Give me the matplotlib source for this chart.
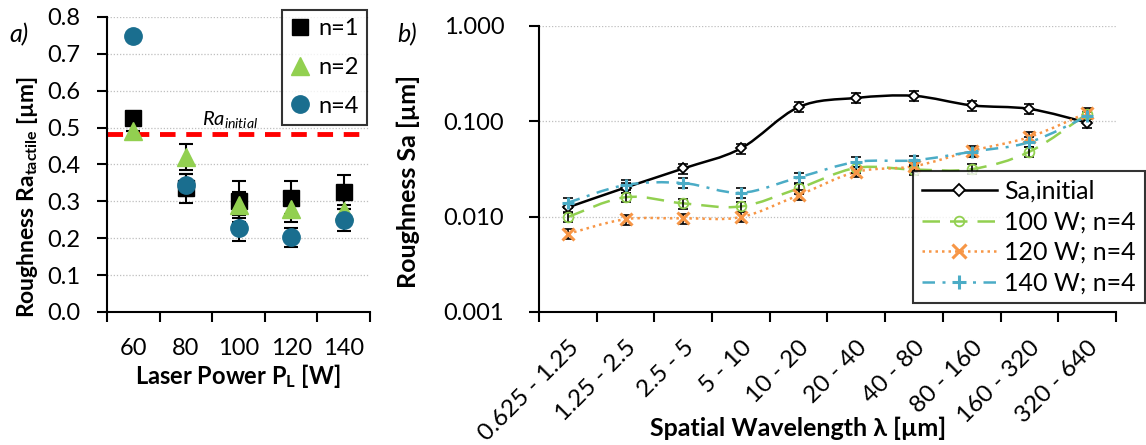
import numpy as np
import matplotlib
matplotlib.use("Agg")
import matplotlib.pyplot as plt
from matplotlib.path import Path
from matplotlib.patches import PathPatch
from matplotlib.lines import Line2D

plt.rcParams["font.family"] = ["Lato", "DejaVu Sans"]
plt.rcParams["mathtext.fontset"] = "custom"
plt.rcParams["mathtext.rm"] = "Lato"
plt.rcParams["mathtext.it"] = "Lato:italic"
plt.rcParams["mathtext.bf"] = "Lato:bold"

# ---- panel a data ----
POWERS = ["60", "80", "100", "120", "140"]
RA_N1 = [0.525, 0.335, 0.300, 0.310, 0.325]
RA_N1_ERR = [0.0, 0.040, 0.055, 0.045, 0.047]
RA_N2 = [0.490, 0.420, 0.290, 0.280, 0.275]
RA_N2_ERR = [0.0, 0.035, 0.035, 0.035, 0.015]
RA_N4 = [0.748, 0.345, 0.228, 0.202, 0.250]
RA_N4_ERR = [0.0, 0.030, 0.035, 0.025, 0.030]
RA_INITIAL = 0.482

# ---- panel b data ----
WAVELENGTHS = ["0.625 - 1.25", "1.25 - 2.5", "2.5 - 5", "5 - 10", "10 - 20",
               "20 - 40", "40 - 80", "80 - 160", "160 - 320", "320 - 640"]
SA_INITIAL = [0.0125, 0.0202, 0.032, 0.052, 0.141, 0.176, 0.185, 0.147, 0.135, 0.097]
SA_100W = [0.0099, 0.0160, 0.0138, 0.0128, 0.0198, 0.0325, 0.0312, 0.0315, 0.048, 0.120]
SA_120W = [0.0066, 0.0094, 0.0096, 0.0099, 0.0168, 0.0295, 0.0338, 0.0490, 0.0685, 0.123]
SA_140W = [0.0140, 0.0215, 0.0225, 0.0178, 0.0258, 0.0375, 0.0390, 0.0480, 0.0605, 0.113]

BLACK = "#000000"
GREEN = "#92D050"
TEAL = "#1A6E8F"
ORANGE = "#F79646"
LBLUE = "#4BACC6"
GRID = "#BFBFBF"


def smooth_path(x, y):
    # Excel-like smoothed line: cubic Bezier through points, built in log space
    px = np.asarray(x, float)
    py = np.log10(np.asarray(y, float))
    verts = [(px[0], 10 ** py[0])]
    codes = [Path.MOVETO]
    n = len(px)
    for i in range(n - 1):
        i0 = max(i - 1, 0)
        i3 = min(i + 2, n - 1)
        c1x = px[i] + (px[i + 1] - px[i0]) / 6
        c1y = py[i] + (py[i + 1] - py[i0]) / 6
        c2x = px[i + 1] - (px[i3] - px[i]) / 6
        c2y = py[i + 1] - (py[i3] - py[i]) / 6
        verts += [(c1x, 10 ** c1y), (c2x, 10 ** c2y), (px[i + 1], 10 ** py[i + 1])]
        codes += [Path.CURVE4] * 3
    return Path(verts, codes)


fig = plt.figure(figsize=(11.46, 4.45), dpi=100)

# ================= panel a =================
ax1 = fig.add_axes([0.0934, 0.2989, 0.2295, 0.663])
xa = np.arange(len(POWERS))
ax1.set_xlim(-0.5, len(POWERS) - 0.5)
ax1.set_ylim(0, 0.8)
ax1.set_yticks(np.arange(0, 0.81, 0.1))
ax1.set_yticklabels([f"{v:.1f}" for v in np.arange(0, 0.81, 0.1)])
for v in np.arange(0.1, 0.81, 0.1):
    ax1.axhline(v, color=GRID, lw=0.9, ls=(0, (1, 1.5)), zorder=0)

ax1.errorbar(xa, RA_N1, yerr=RA_N1_ERR, fmt="none", ecolor="black", elinewidth=1.5,
             capsize=5, capthick=1.5, zorder=2)
ax1.errorbar(xa, RA_N2, yerr=RA_N2_ERR, fmt="none", ecolor="black", elinewidth=1.5,
             capsize=5, capthick=1.5, zorder=2)
ax1.errorbar(xa, RA_N4, yerr=RA_N4_ERR, fmt="none", ecolor="black", elinewidth=1.5,
             capsize=5, capthick=1.5, zorder=2)
ax1.plot(xa, RA_N1, ls="none", marker="s", ms=11, color=BLACK, label="n=1", zorder=3)
ax1.plot(xa, RA_N2, ls="none", marker="^", ms=13, color=GREEN, label="n=2", zorder=4)
ax1.plot(xa, RA_N4, ls="none", marker="o", ms=12.5, color=TEAL, label="n=4", zorder=5)
ax1.axhline(RA_INITIAL, color="#FF0000", lw=3.5, ls=(0, (3.2, 2.2)), zorder=1)
ax1.text(1.85, RA_INITIAL + 0.012, r"$\mathit{Ra}_{\mathit{initial}}$", fontsize=14.5,
         ha="center", va="bottom")

ax1.set_xticks(xa)
ax1.set_xticklabels(POWERS)
ax1.set_xticks(np.arange(-0.5, len(POWERS)), minor=True)
ax1.tick_params(axis="x", which="major", length=0, labelsize=17, pad=19)
ax1.tick_params(axis="x", which="minor", length=7, width=1.5, direction="out")
ax1.tick_params(axis="y", length=7, width=1.5, labelsize=17, pad=12)
for s in ["top", "right"]:
    ax1.spines[s].set_visible(False)
for s in ["left", "bottom"]:
    ax1.spines[s].set_linewidth(1.5)
ax1.set_ylabel(r"Roughness Ra$_{\mathbf{tactile}}$ [µm]", fontsize=16.5, fontweight="bold",
               va="center")
ax1.yaxis.set_label_coords(-0.304, 0.39)
ax1.set_xlabel(r"Laser Power P$_{\mathbf{L}}$ [W]", fontsize=17, fontweight="bold", va="center")
ax1.xaxis.set_label_coords(0.496, -0.217)
leg1 = ax1.legend(loc="upper right", bbox_to_anchor=(0.99, 1.024), borderaxespad=0,
                  fontsize=17, frameon=True, fancybox=False, edgecolor="black",
                  handlelength=0.8, handletextpad=0.4, borderpad=0.35, labelspacing=0.75)
leg1.get_frame().set_linewidth(1.5)
fig.text(0.008, 0.905, "a)", fontsize=18, style="italic")

# ================= panel b =================
ax2 = fig.add_axes([0.4703, 0.2989, 0.5035, 0.6427])
xb = np.arange(len(WAVELENGTHS))
ax2.set_yscale("log")
ax2.set_ylim(0.001, 1.0)
ax2.set_xlim(-0.5, len(WAVELENGTHS) - 0.5)
ax2.set_yticks([0.001, 0.01, 0.1, 1.0])
ax2.set_yticklabels(["0.001", "0.010", "0.100", "1.000"])
ax2.minorticks_off()
for v in [0.01, 0.1, 1.0]:
    ax2.axhline(v, color=GRID, lw=0.9, ls=(0, (1, 1.5)), zorder=0)

series = [
    (SA_INITIAL, BLACK, "-", "D", "Sa,initial"),
    (SA_100W, GREEN, (0, (7, 4)), "o", "100 W; n=4"),
    (SA_120W, ORANGE, (0, (1, 1.6)), "x", "120 W; n=4"),
    (SA_140W, LBLUE, (0, (5, 3, 1.2, 3)), "+", "140 W; n=4"),
]
handles = []
for vals, col, ls, mk, lab in series:
    ax2.add_patch(PathPatch(smooth_path(xb, vals), fill=False, edgecolor=col, lw=1.8,
                            linestyle=ls, zorder=2))
    err = np.asarray(vals) * 0.12
    ax2.errorbar(xb, vals, yerr=err, fmt="none", ecolor="black", elinewidth=1.2,
                 capsize=3.5, capthick=1.2, zorder=3)
    if mk in ("D", "o"):
        ax2.plot(xb, vals, ls="none", marker=mk, ms=7 if mk == "o" else 5.5,
                 mfc="white" if mk == "D" else "none", mec=col, mew=1.3, zorder=4)
    else:
        ax2.plot(xb, vals, ls="none", marker=mk, ms=9, mec=col, mew=2.2, zorder=4)
    h = Line2D([], [], color=col, lw=1.8, ls=ls, marker=mk,
               ms=7 if mk == "o" else (6 if mk == "D" else 10),
               mfc="white" if mk == "D" else "none", mec=col,
               mew=1.3 if mk in ("D", "o") else 2.2, label=lab)
    handles.append(h)

ax2.set_xticks(xb)
ax2.set_xticklabels(WAVELENGTHS, rotation=45, ha="right", rotation_mode="anchor")
ax2.set_xticks(np.arange(-0.5, len(WAVELENGTHS)), minor=True)
ax2.tick_params(axis="x", which="major", length=0, labelsize=17.5, pad=18)
ax2.tick_params(axis="x", which="minor", length=7, width=1.5, direction="out")
ax2.tick_params(axis="y", length=7, width=1.5, labelsize=17, pad=18)
for s in ["top", "right"]:
    ax2.spines[s].set_visible(False)
for s in ["left", "bottom"]:
    ax2.spines[s].set_linewidth(1.5)
ax2.set_ylabel("Roughness Sa [µm]", fontsize=18, fontweight="bold", va="center")
ax2.yaxis.set_label_coords(-0.227, 0.458)
ax2.set_xlabel("Spatial Wavelength λ [µm]", fontsize=18, fontweight="bold", va="center")
ax2.xaxis.set_label_coords(0.449, -0.406)
leg2 = ax2.legend(handles=handles, loc="lower right", bbox_to_anchor=(1.05, 0.031),
                  borderaxespad=0, fontsize=18, frameon=True, fancybox=False,
                  edgecolor="black", handlelength=3.0, handletextpad=0.3, borderpad=0.35,
                  labelspacing=0.3)
leg2.get_frame().set_linewidth(1.5)
fig.text(0.347, 0.905, "b)", fontsize=18, style="italic")

fig.savefig("out.png", dpi=100)
